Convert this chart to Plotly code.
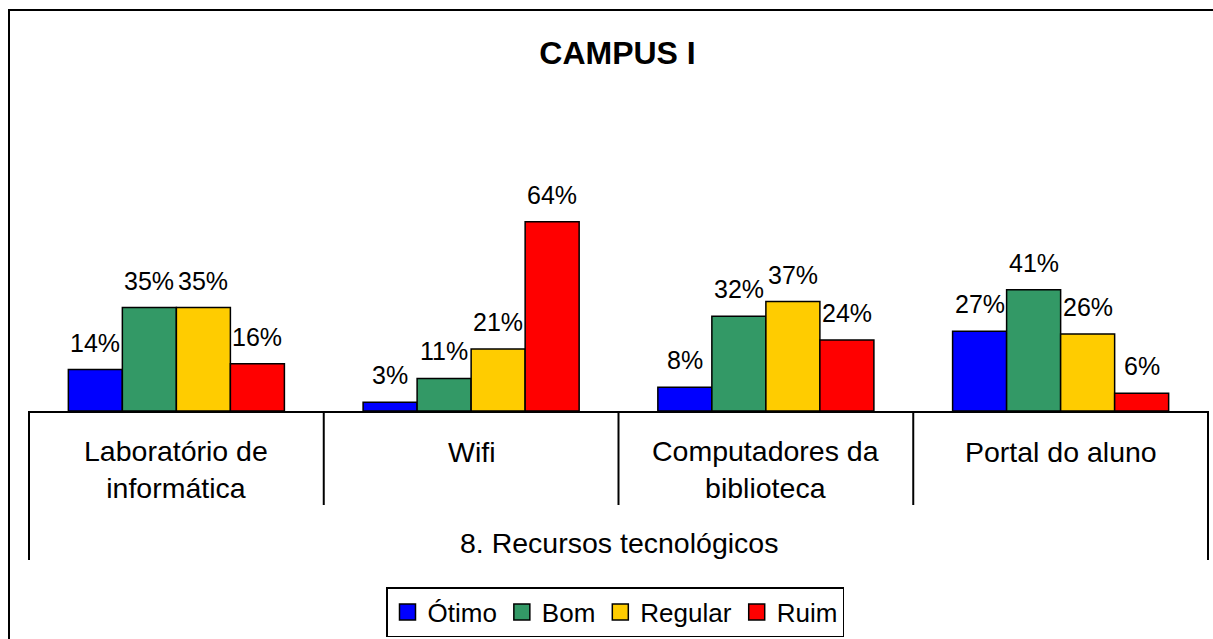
import plotly.graph_objects as go

# ---- data ----
categories = ["Laboratório de<br>informática", "Wifi", "Computadores da<br>biblioteca", "Portal do aluno"]
group_label = "8. Recursos tecnológicos"
series_names = ["Ótimo", "Bom", "Regular", "Ruim"]
otimo = [14, 3, 8, 27]
bom = [35, 11, 32, 41]
regular = [35, 21, 37, 26]
ruim = [16, 64, 24, 6]
title_text = "CAMPUS I"

series_values = [otimo, bom, regular, ruim]
colors = ["#0000FF", "#339966", "#FFCC00", "#FF0000"]

W, H = 1213, 639
ML, MR, MT, MB = 29, 5, 204, 228
FONT = "Liberation Sans, Arial, sans-serif"
BARGAP = 0.267

plot_w = W - ML - MR
plot_h = H - MT - MB
unit = plot_w / len(categories)
bar_px = (1 - BARGAP) / len(series_names) * unit

fig = go.Figure()
for j, (name, vals, col) in enumerate(zip(series_names, series_values, colors)):
    fig.add_trace(go.Bar(
        x=categories, y=vals, name=name, showlegend=False,
        marker=dict(color=col, line=dict(color="black", width=1.5)),
    ))
    # legend entry
    fig.add_trace(go.Scatter(
        x=[None], y=[None], mode="markers", name=name,
        marker=dict(symbol="square", size=16, color=col, line=dict(color="black", width=1.5)),
    ))
    for c, v in zip(categories, vals):
        fig.add_annotation(
            x=c, y=v, xref="x", yref="y", text=f"{v}%", showarrow=False,
            xshift=(j - 1.5) * bar_px, yshift=27, yanchor="middle",
            font=dict(family=FONT, size=25, color="black"),
        )


def py(pixel_y):
    return (H - MB - pixel_y) / plot_h


def px(pixel_x):
    return (pixel_x - ML) / plot_w


# category labels
for c in categories:
    nlines = c.count("<br>") + 1
    fig.add_annotation(
        x=c, xref="x", y=py(452 + (nlines - 1) * 17.5), yref="paper",
        text=c, showarrow=False, yanchor="middle",
        font=dict(family=FONT, size=28.5, color="black"),
    )
fig.add_annotation(
    x=0.5, xref="paper", y=py(543), yref="paper", text=group_label,
    showarrow=False, yanchor="middle", font=dict(family=FONT, size=28.5, color="black"),
)

shapes = []
n = len(categories)
for k in range(n + 1):
    bottom = 560 if k in (0, n) else 505
    shapes.append(dict(type="line", xref="x domain", yref="y domain",
                       x0=k / n, x1=k / n, y0=0, y1=py(bottom),
                       line=dict(color="black", width=2)))
# outer frame
shapes.append(dict(type="rect", xref="paper", yref="paper",
                   x0=px(9), x1=px(1230), y0=py(660), y1=py(10),
                   line=dict(color="black", width=2)))

fig.update_layout(
    width=W, height=H,
    margin=dict(l=ML, r=MR, t=MT, b=MB, autoexpand=False),
    paper_bgcolor="white", plot_bgcolor="white",
    barmode="group", bargap=BARGAP, bargroupgap=0,
    title=dict(text=f"<b>{title_text}</b>", x=617.5 / W, xref="container", xanchor="center",
               y=1 - 53 / H, yref="container", yanchor="middle",
               font=dict(family=FONT, size=32, color="black")),
    xaxis=dict(showticklabels=False, showgrid=False, zeroline=False,
               showline=True, linecolor="black", linewidth=2, ticks=""),
    yaxis=dict(range=[0, 70], visible=False, showgrid=False, zeroline=False),
    legend=dict(orientation="h", x=px(615), xanchor="center",
                y=py(587), yanchor="top",
                bordercolor="black", borderwidth=1.5, bgcolor="white",
                font=dict(family=FONT, size=26, color="black"),
                itemwidth=30, tracegroupgap=0),
    shapes=shapes,
    font=dict(family=FONT),
)

fig.write_html("out.html", config={"displayModeBar": False},
               post_script="document.body.style.margin='0px';")
